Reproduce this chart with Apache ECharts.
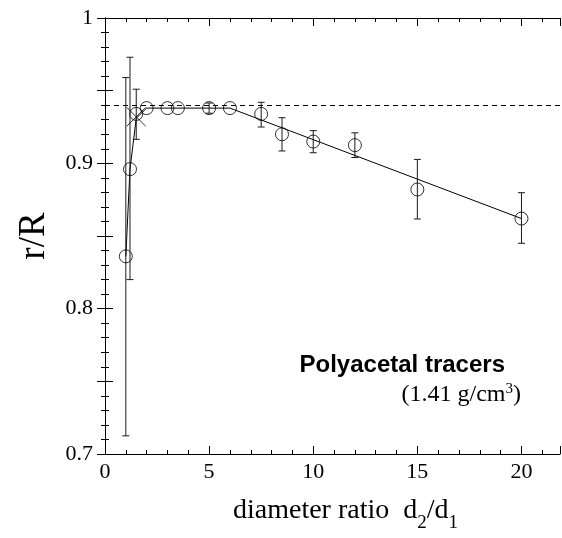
<!DOCTYPE html>
<html>
<head>
<meta charset="utf-8">
<script src="https://cdn.jsdelivr.net/npm/echarts@6/dist/echarts.min.js"></script>
<style>html,body{margin:0;padding:0;background:#fff;}#c{width:562px;height:538px;}</style>
</head>
<body>
<div id="c"></div>
<script>
// ---- data ----
var pointX = [1, 1.2, 1.5, 2, 3, 3.5, 5, 6, 7.5, 8.5, 10, 12, 15, 20];
var pointY = [0.836, 0.896, 0.934, 0.938, 0.938, 0.938, 0.938, 0.938, 0.934, 0.920, 0.915, 0.9125, 0.882, 0.862];

var crossX = [1.5];
var crossY = [0.932];

var errX    = [1, 1.2, 1.5, 5, 7.5, 8.5, 10, 12, 15, 20];
var errLow  = [0.7125, 0.820, 0.9165, 0.9345, 0.925, 0.9085, 0.9073, 0.904, 0.8617, 0.845];
var errHigh = [0.959, 0.973, 0.951, 0.9415, 0.942, 0.9314, 0.9225, 0.921, 0.9027, 0.8798];

var fitX = [1, 1.2, 1.5, 2, 6, 20];
var fitY = [0.836, 0.896, 0.931, 0.938, 0.938, 0.862];

var refLevel = 0.9375;

var xTicks = [0, 5, 10, 15, 20];
var yTicks = [0.7, 0.8, 0.9, 1];

var xLabel = 'diameter ratio';
var yLabel = 'r/R';
var noteTitle = 'Polyacetal tracers';
var noteSub = '(1.41 g/cm';

// ---- build ----
function zip(a, b) { return a.map(function (v, i) { return [v, b[i]]; }); }
var errData = errX.map(function (v, i) { return [v, errLow[i], errHigh[i]]; });

var serif = 'Liberation Serif';
var axisCommon = {
  min: 0, max: 21.85, interval: 5,
  axisLine: { show: true, lineStyle: { color: '#000', width: 1 } },
  axisTick: { show: true, inside: true, length: 8, lineStyle: { color: '#000' } },
  minorTick: { show: true, splitNumber: 5, length: 4, lineStyle: { color: '#000' } },
  splitLine: { show: false },
  minorSplitLine: { show: false }
};
var yCommon = {
  min: 0.7, max: 1, interval: 0.05,
  axisLine: { show: true, lineStyle: { color: '#000', width: 1 } },
  axisTick: { show: true, inside: true, length: 8, lineStyle: { color: '#000' } },
  minorTick: { show: true, splitNumber: 5, length: 4, lineStyle: { color: '#000' } },
  splitLine: { show: false },
  minorSplitLine: { show: false }
};

var option = {
  backgroundColor: '#fff',
  animation: false,
  grid: { left: 105, right: 2, top: 18, bottom: 84, containLabel: false },
  title: [
    { text: noteTitle, right: 52, top: 348,
      textStyle: { fontFamily: 'Liberation Sans', fontWeight: 'bold', fontSize: 24, color: '#000' } },
    { text: '{a|' + noteSub + '}{s|3}{a|)}', right: 36, top: 377,
      textStyle: { fontWeight: 'normal', rich: {
        a: { fontFamily: serif, fontWeight: 'normal', fontSize: 24, color: '#000', verticalAlign: 'bottom' },
        s: { fontFamily: serif, fontWeight: 'normal', fontSize: 15, color: '#000', verticalAlign: 'bottom', padding: [0, 0, 10, 0] }
      } } }
  ],
  xAxis: [
    Object.assign({}, axisCommon, {
      type: 'value', position: 'bottom',
      name: '{a|' + xLabel + '  d}{s|2}{a|/d}{s|1}',
      nameLocation: 'middle', nameGap: 43,
      nameTextStyle: { padding: [0, 0, 0, 26], rich: {
        a: { fontFamily: serif, fontSize: 28, color: '#000', verticalAlign: 'bottom', padding: [0, 0, 8, 0] },
        s: { fontFamily: serif, fontSize: 19, color: '#000', verticalAlign: 'bottom' }
      } },
      axisLabel: { show: true, margin: 7, fontFamily: serif, fontSize: 22, color: '#000',
        showMaxLabel: false,
        formatter: function (v) { return xTicks.indexOf(Math.round(v * 100) / 100) >= 0 ? String(v) : ''; } }
    }),
    Object.assign({}, axisCommon, {
      type: 'value', position: 'top', axisLabel: { show: false }
    })
  ],
  yAxis: [
    Object.assign({}, yCommon, {
      type: 'value', position: 'left',
      name: yLabel, nameLocation: 'middle', nameGap: 52, nameRotate: 90,
      nameTextStyle: { fontFamily: serif, fontSize: 37, color: '#000' },
      axisLabel: { show: true, margin: 12, fontFamily: serif, fontSize: 22, color: '#000',
        formatter: function (v) {
          var r = Math.round(v * 100) / 100;
          for (var i = 0; i < yTicks.length; i++) {
            if (Math.abs(yTicks[i] - r) < 1e-6) return r === 1 ? '1' : r.toFixed(1);
          }
          return '';
        } }
    }),
    Object.assign({}, yCommon, {
      type: 'value', position: 'right', axisLabel: { show: false }
    })
  ],
  series: [
    {
      type: 'line', data: zip(fitX, fitY), symbol: 'none', smooth: false,
      lineStyle: { color: '#000', width: 1 }, z: 2,
      markLine: {
        silent: true, symbol: ['none', 'none'], label: { show: false },
        lineStyle: { color: '#000', width: 1, type: [5, 4] },
        data: [{ yAxis: refLevel }]
      }
    },
    {
      type: 'custom', data: errData, z: 3,
      renderItem: function (params, api) {
        var lo = api.coord([api.value(0), api.value(1)]);
        var hi = api.coord([api.value(0), api.value(2)]);
        var w = 3.5;
        var st = { stroke: '#1a1a1a', lineWidth: 1 };
        return { type: 'group', children: [
          { type: 'line', shape: { x1: lo[0], y1: lo[1], x2: hi[0], y2: hi[1] }, style: st },
          { type: 'line', shape: { x1: lo[0] - w, y1: lo[1], x2: lo[0] + w, y2: lo[1] }, style: st },
          { type: 'line', shape: { x1: hi[0] - w, y1: hi[1], x2: hi[0] + w, y2: hi[1] }, style: st }
        ] };
      }
    },
    {
      type: 'scatter', data: zip(pointX, pointY), symbol: 'circle', symbolSize: 13, z: 4,
      itemStyle: { color: 'rgba(0,0,0,0)', borderColor: '#000', borderWidth: 1 }
    },
    {
      type: 'scatter', data: zip(crossX, crossY), symbol: 'path://M0,0L10,10M10,0L0,10',
      symbolSize: 19, z: 4,
      itemStyle: { color: 'rgba(0,0,0,0)', borderColor: '#000', borderWidth: 1 }
    }
  ]
};

var chart = echarts.init(document.getElementById('c'), null, { renderer: 'canvas' });
chart.setOption(option);
</script>
</body>
</html>
